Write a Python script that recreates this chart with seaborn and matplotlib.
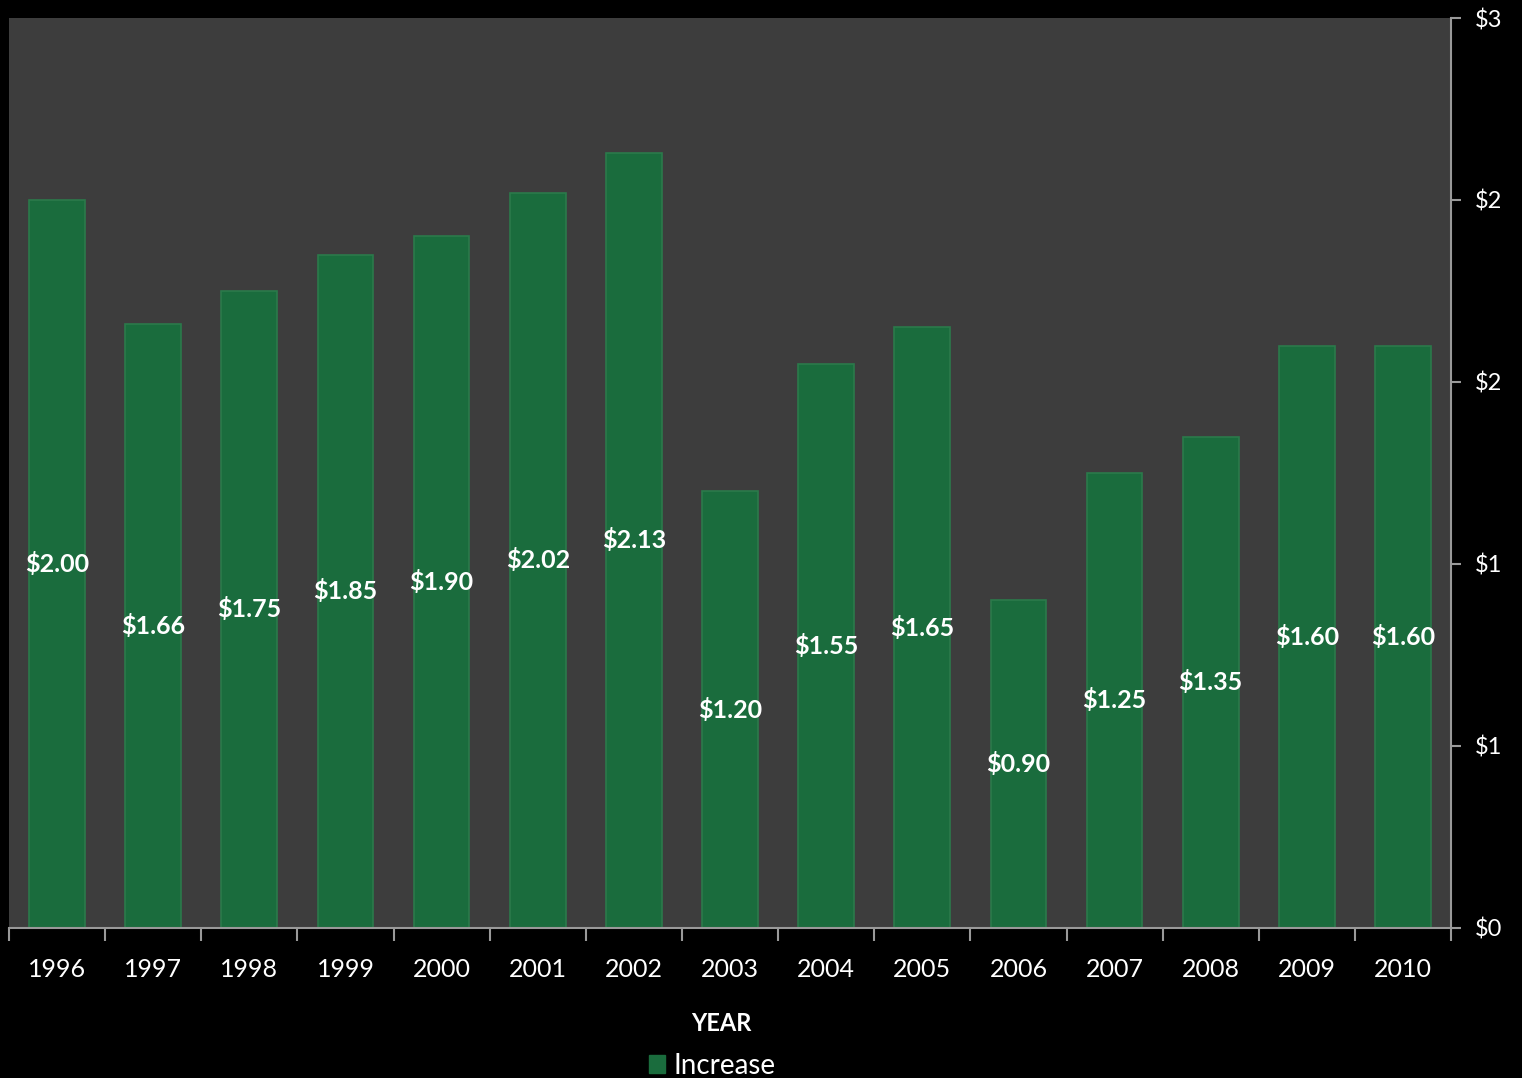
import numpy as np
import pandas as pd
import matplotlib
matplotlib.use("Agg")
import matplotlib.pyplot as plt
from matplotlib.ticker import FuncFormatter, FixedLocator
import seaborn as sns

# chart data
years = ['1996', '1997', '1998', '1999', '2000', '2001', '2002', '2003',
         '2004', '2005', '2006', '2007', '2008', '2009', '2010']
increase = [2.00, 1.66, 1.75, 1.85, 1.90, 2.02, 2.13, 1.20,
            1.55, 1.65, 0.90, 1.25, 1.35, 1.60, 1.60]
y_ticks = [0, 0.5, 1.0, 1.5, 2.0, 2.5]

df = pd.DataFrame({'year': years, 'increase': increase})

sns.set_style('dark')
plt.rcParams['font.family'] = ['Lato', 'DejaVu Sans']

bar_color = '#1a6c3d'
fig = plt.figure(figsize=(15.22, 10.78), dpi=100, facecolor='black')
ax = fig.add_axes([0.0059, 0.1392, 0.9475, 0.8441])
ax.set_facecolor('#3d3d3d')

sns.barplot(data=df, x='year', y='increase', color=bar_color, width=0.58,
            edgecolor='#2b7a4b', linewidth=1.2, saturation=1, ax=ax)

# value labels in the middle of each bar
ax.bar_label(ax.containers[0], labels=[f'${v:.2f}' for v in increase],
             label_type='center', color='white', fontsize=18, fontweight='bold')

ax.set_xlim(-0.5, len(years) - 0.5)
ax.set_ylim(0, 2.5)
ax.grid(False)

# y axis on the right, dollar format rounded half up
ax.yaxis.tick_right()
ax.yaxis.set_major_locator(FixedLocator(y_ticks))
ax.yaxis.set_major_formatter(FuncFormatter(lambda x, p: f'${int(x + 0.5)}'))
ax.tick_params(axis='y', colors='#999999', labelcolor='white', labelsize=17,
               length=7, width=1.5, direction='out', pad=10, right=True, left=False)

# x ticks at category boundaries, labels centered
ax.set_xticks(np.arange(len(years)))
ax.set_xticklabels(years)
ax.set_xticks(np.arange(-0.5, len(years)), minor=True)
ax.tick_params(axis='x', which='major', length=0, labelcolor='white',
               labelsize=18, pad=22)
ax.tick_params(axis='x', which='minor', colors='#999999', length=9, width=1.5,
               direction='out', bottom=True)

for side in ['top', 'left']:
    ax.spines[side].set_visible(False)
for side in ['bottom', 'right']:
    ax.spines[side].set_visible(True)
    ax.spines[side].set_color('#999999')
    ax.spines[side].set_linewidth(1.5)

ax.set_ylabel('')
ax.set_xlabel('YEAR', color='white', fontsize=17, fontweight='bold', labelpad=22)
ax.xaxis.label.set_x(0.494)

fig.legend(handles=[plt.Rectangle((0, 0), 1, 1, color=bar_color)],
           labels=['Increase'], loc='lower center',
           bbox_to_anchor=(0.468, -0.024), frameon=False,
           fontsize=20, handlelength=0.6, handleheight=0.6,
           handletextpad=0.3, labelcolor='white')

fig.savefig('out.png', dpi=100, facecolor='black')
